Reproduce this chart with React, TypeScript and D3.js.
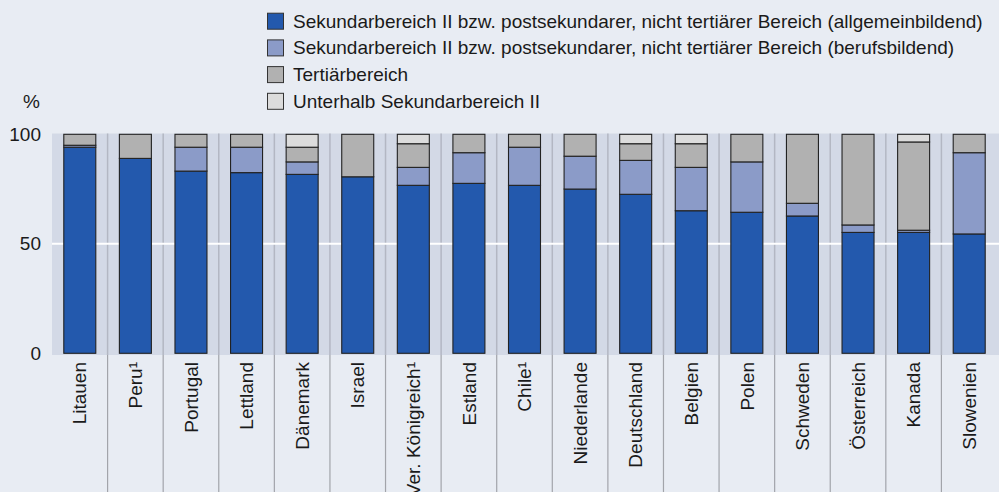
import React from "react";
import * as d3 from "d3";

const categories = ["Litauen", "Peru¹", "Portugal", "Lettland", "Dänemark", "Israel", "Ver. Königreich¹", "Estland", "Chile¹", "Niederlande", "Deutschland", "Belgien", "Polen", "Schweden", "Österreich", "Kanada", "Slowenien"];
const allgemein = [94.1, 89.0, 83.2, 82.5, 81.7, 80.6, 76.7, 77.6, 76.7, 75.0, 72.6, 65.1, 64.4, 62.7, 55.2, 55.2, 54.5];
const beruf = [0.9, 0, 10.9, 11.6, 5.7, 0, 8.2, 14.0, 17.4, 15.0, 15.5, 19.8, 23.0, 5.8, 3.4, 1.0, 37.1];
const tertiaer = [5.0, 11.0, 5.9, 5.9, 6.7, 19.4, 10.8, 8.4, 5.9, 10.0, 7.6, 10.8, 12.6, 31.5, 41.4, 40.3, 8.4];
const unterhalb = [0, 0, 0, 0, 5.9, 0, 4.3, 0, 0, 0, 4.3, 4.3, 0, 0, 0, 3.5, 0];
const seriesNames = [
  "Sekundarbereich II bzw. postsekundarer, nicht tertiärer Bereich (allgemeinbildend)",
  "Sekundarbereich II bzw. postsekundarer, nicht tertiärer Bereich (berufsbildend)",
  "Tertiärbereich",
  "Unterhalb Sekundarbereich II",
];
const yTicks = [0, 50, 100];
const colors = ["#2359ad", "#8b9bc8", "#b1b1b1", "#dcdcdc"];

const W = 999, H = 492;
const FONT = "'Liberation Sans', Arial, sans-serif";

export default function App() {
  const keys = ["a", "b", "t", "u"];
  const rows = categories.map((c, i) => ({ c, a: allgemein[i], b: beruf[i], t: tertiaer[i], u: unterhalb[i] }));
  const stacked = d3.stack<any>().keys(keys)(rows);
  const x = d3.scaleBand<string>().domain(categories).range([52, 997]).paddingInner(0.4244).paddingOuter(0.2122);
  const y = d3.scaleLinear().domain([0, 100]).range([353.3, 134.3]);
  const step = x.step();
  const bandStart = 52;

  return (
    <svg width={W} height={H} style={{ position: "absolute", left: 0, top: 0, display: "block" }} fontFamily={FONT}>
      <rect x={0} y={0} width={W} height={H} fill="#e8ecf3" />
      <rect x={52} y={133.5} width={W - 52} height={355 - 133.5} fill="#d3d9e6" />
      {/* separators */}
      {d3.range(1, categories.length).map((k) => (
        <g key={k}>
          <line x1={bandStart + k * step} x2={bandStart + k * step} y1={133.5} y2={355} stroke="#b3b7c3" strokeWidth={1.5} />
          <line x1={bandStart + k * step} x2={bandStart + k * step} y1={355} y2={H} stroke="#a2a4aa" strokeWidth={1.2} />
        </g>
      ))}
      {/* gridline 50 */}
      <line x1={52} x2={W} y1={y(50)} y2={y(50)} stroke="#ffffff" strokeWidth={2} />
      {/* y ticks */}
      {yTicks.map((t) => (
        <text key={t} x={41} y={y(t)} dy="0.35em" textAnchor="end" fontSize={19} fill="#1a1a1a">{t}</text>
      ))}
      <text x={40} y={108} textAnchor="end" fontSize={19} fill="#1a1a1a">%</text>
      {/* bars */}
      {stacked.map((s, si) => (
        <g key={si}>
          {s.map((d, i) => {
            const h = y(d[0]) - y(d[1]);
            if (h <= 0.01) return null;
            return (
              <rect key={i} x={x(categories[i])!} y={y(d[1])} width={x.bandwidth()} height={h}
                fill={colors[si]} stroke="#222" strokeWidth={1.1} />
            );
          })}
        </g>
      ))}
      {/* category labels */}
      {categories.map((c) => {
        const cx = x(c)! + x.bandwidth() / 2;
        return (
          <text key={c} transform={`translate(${cx},362) rotate(-90)`} dy="0.35em" textAnchor="end" fontSize={19} fill="#1a1a1a">{c}</text>
        );
      })}
      {/* legend */}
      {seriesNames.map((n, i) => (
        <g key={n} transform={`translate(267,${12.7 + i * 26.7})`}>
          <rect x={0.5} y={0.5} width={16} height={16} fill={colors[i]} stroke="#333" strokeWidth={1} />
          <text x={26} y={15} fontSize={19} fill="#1a1a1a">{n}</text>
        </g>
      ))}
    </svg>
  );
}
